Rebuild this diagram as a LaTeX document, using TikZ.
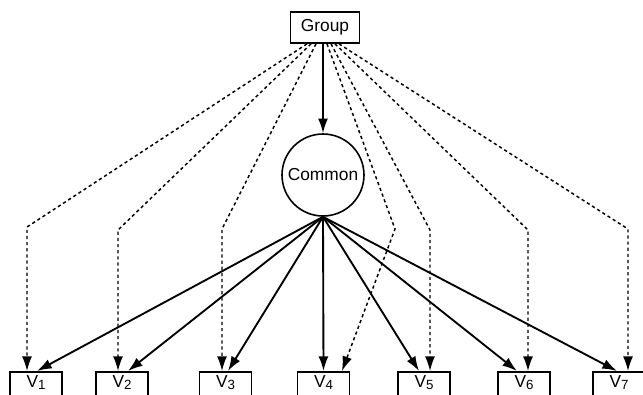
\documentclass[tikz,border=0pt]{standalone}
\usepackage{fontspec}
\setmainfont{Liberation Sans}
\usetikzlibrary{arrows.meta}
\begin{document}
\begin{tikzpicture}[x=0.75pt,y=-0.75pt,
  lbl/.style={font=\fontsize{13}{14}\selectfont},
  grpbox/.style={draw,line width=1.3pt,minimum width=51.75pt,minimum height=23.25pt,inner sep=0pt,lbl},
  circ/.style={draw,circle,line width=1.2pt,minimum size=61.5pt,inner sep=0pt,lbl},
  vbox/.style={draw,line width=1.3pt,minimum width=39pt,inner xsep=0pt,inner ysep=2.25pt,
     text height=9.5pt,text depth=12pt,anchor=north,font=\fontsize{13}{14}\selectfont},
  solidarr/.style={line width=1.4pt,-{Latex[length=11pt,width=7.5pt]}},
  dasharr/.style={line width=1.1pt,dash pattern=on 2.4pt off 2.2pt,-{Latex[length=11pt,width=7.5pt]}}
]
\useasboundingbox (0,0) rectangle (643,394);
\clip (0,0) rectangle (643,394);
\newcommand{\vlab}[1]{V\raisebox{-1.6pt}{\fontsize{10}{10}\selectfont #1}}
\node[grpbox] (group) at (325,27.5) {Group};
\node[circ] (common) at (323,175) {Common};
\node[vbox] (v1) at (36,371) {\vlab{1}};
\node[vbox] (v2) at (122,371) {\vlab{2}};
\node[vbox] (v3) at (225.5,371) {\vlab{3}};
\node[vbox] (v4) at (323.5,371) {\vlab{4}};
\node[vbox] (v5) at (424,371) {\vlab{5}};
\node[vbox] (v6) at (524,371) {\vlab{6}};
\node[vbox] (v7) at (619,371) {\vlab{7}};
% solid
\draw[solidarr] (group.south -| common) -- (common.north);
\draw[solidarr] (common.south) -- (v1.north -| 37,0);
\draw[solidarr] (common.south) -- (v2.north -| 128,0);
\draw[solidarr] (common.south) -- (v3.north -| 228,0);
\draw[solidarr] (common.south) -- (v4.north -| 323.5,0);
\draw[solidarr] (common.south) -- (v5.north -| 419,0);
\draw[solidarr] (common.south) -- (v6.north -| 517,0);
\draw[solidarr] (common.south) -- (v7.north -| 617,0);
% dashed
\draw[dasharr] (group.south -| 307,0) -- (27,227) -- (v1.north -| 27,0);
\draw[dasharr] (group.south -| 311,0) -- (118,230) -- (v2.north -| 118,0);
\draw[dasharr] (group.south -| 316,0) -- (222,229) -- (v3.north -| 222,0);
\draw[dasharr] (group.south -| 327,0) -- (395,229) -- (v4.north -| 342,0);
\draw[dasharr] (group.south -| 331,0) -- (430,230) -- (v5.north -| 430,0);
\draw[dasharr] (group.south -| 335,0) -- (528,230) -- (v6.north -| 528,0);
\draw[dasharr] (group.south -| 339,0) -- (628,229) -- (v7.north -| 628,0);
\end{tikzpicture}
\end{document}
